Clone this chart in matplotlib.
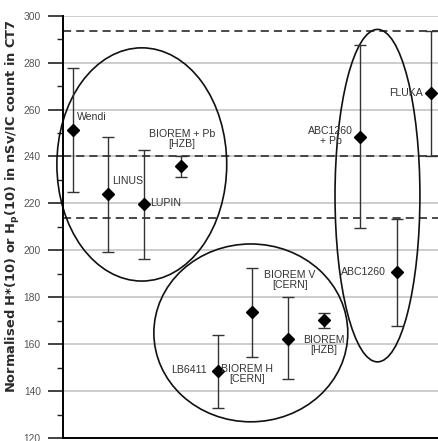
import matplotlib
matplotlib.use("Agg")
import matplotlib.pyplot as plt
from matplotlib.patches import Ellipse

plt.rcParams['font.family'] = ['Liberation Sans', 'DejaVu Sans']

# ---- data ----
instruments = ["Wendi", "LINUS", "LUPIN", "BIOREM + Pb\n[HZB]", "LB6411",
               "BIOREM H\n[CERN]", "BIOREM V\n[CERN]", "BIOREM\n[HZB]",
               "ABC1260\n+ Pb", "ABC1260", "FLUKA"]
x_pos = [0.27, 1.25, 2.25, 3.28, 4.3, 5.24, 6.26, 7.25, 8.25, 9.27, 10.24]
values = [251.3, 223.8, 219.7, 235.9, 148.6, 173.5, 162.4, 170.2, 248.4, 190.6, 266.9]
err_high = [277.6, 248.4, 242.9, 240.2, 163.8, 192.3, 180.2, 173.1, 287.5, 213.3, 293.6]
err_low = [224.7, 199.4, 196.5, 231.2, 132.6, 154.6, 145.0, 166.7, 209.6, 167.8, 240.0]

# label anchor positions (x, y, ha)
label_pos = [(0.39, 256.8, 'left'), (1.36, 229.5, 'left'), (2.42, 220.1, 'left'),
             (3.31, 247.4, 'center'), (4.0, 149.0, 'right'), (5.12, 147.3, 'center'),
             (6.3, 187.5, 'center'), (7.25, 159.8, 'center'), (7.44, 248.8, 'center'),
             (8.97, 190.6, 'right'), (10.0, 266.9, 'right')]

ref_lines = [293.6, 240.0, 213.6]
y_ticks = [120, 140, 160, 180, 200, 220, 240, 260, 280, 300]

# grouping ellipses: (cx, cy, width, height)
ellipses = [(2.19, 236.6, 4.72, 99.4), (5.22, 164.8, 5.39, 75.8), (8.74, 223.3, 2.36, 141.7)]

# ---- figure ----
fig = plt.figure(figsize=(4.39, 4.41), dpi=100)
ax = fig.add_axes([63 / 439, 1 - 438 / 441, 1 - 63 / 439, (438 - 15.7) / 441])
ax.set_xlim(0, 10.45)
ax.set_ylim(120, 300)

for t in y_ticks[1:]:
    ax.axhline(t, color='#cdcdcd', lw=1.4, zorder=0)
for r in ref_lines:
    ax.axhline(r, color='#3a3a3a', lw=1.3, ls=(0, (4.5, 2.8)), zorder=1)

lower = [v - lo for v, lo in zip(values, err_low)]
upper = [hi - v for v, hi in zip(values, err_high)]
ax.errorbar(x_pos, values, yerr=[lower, upper], fmt='D', color='black', ms=6.3,
            ecolor='#333333', elinewidth=1.0, capsize=4.3, capthick=1.0, zorder=3)

for name, (lx, ly, ha) in zip(instruments, label_pos):
    ax.text(lx, ly, name, ha=ha, va='center', fontsize=7.6, color='#333333',
            multialignment='center', linespacing=1.0, zorder=4)

for cx, cy, w, h in ellipses:
    ax.add_patch(Ellipse((cx, cy), w, h, fill=False, ec='#111111', lw=1.2,
                         clip_on=False, zorder=2))

ax.set_yticks(y_ticks)
ax.set_yticks(range(130, 300, 20), minor=True)
ax.tick_params(axis='y', which='major', length=11, width=1.2, pad=5,
               labelsize=7.4, labelcolor='#555555', color='#222222')
ax.tick_params(axis='y', which='minor', length=4.5, width=1.0, color='#222222')
ax.set_xticks([])
for s in ['top', 'right']:
    ax.spines[s].set_visible(False)
ax.spines['left'].set_linewidth(1.4)
ax.spines['bottom'].set_linewidth(1.4)

ax.set_ylabel(r"Normalised H*(10) or H$_\mathbf{p}$(10) in nSv/IC count in CT7",
              fontsize=9.4, fontweight='bold', color='#2a2a2a',
              family=['DejaVu Sans'])
ax.yaxis.set_label_coords(-0.109, 0.548)

fig.savefig("out.png", dpi=100)
